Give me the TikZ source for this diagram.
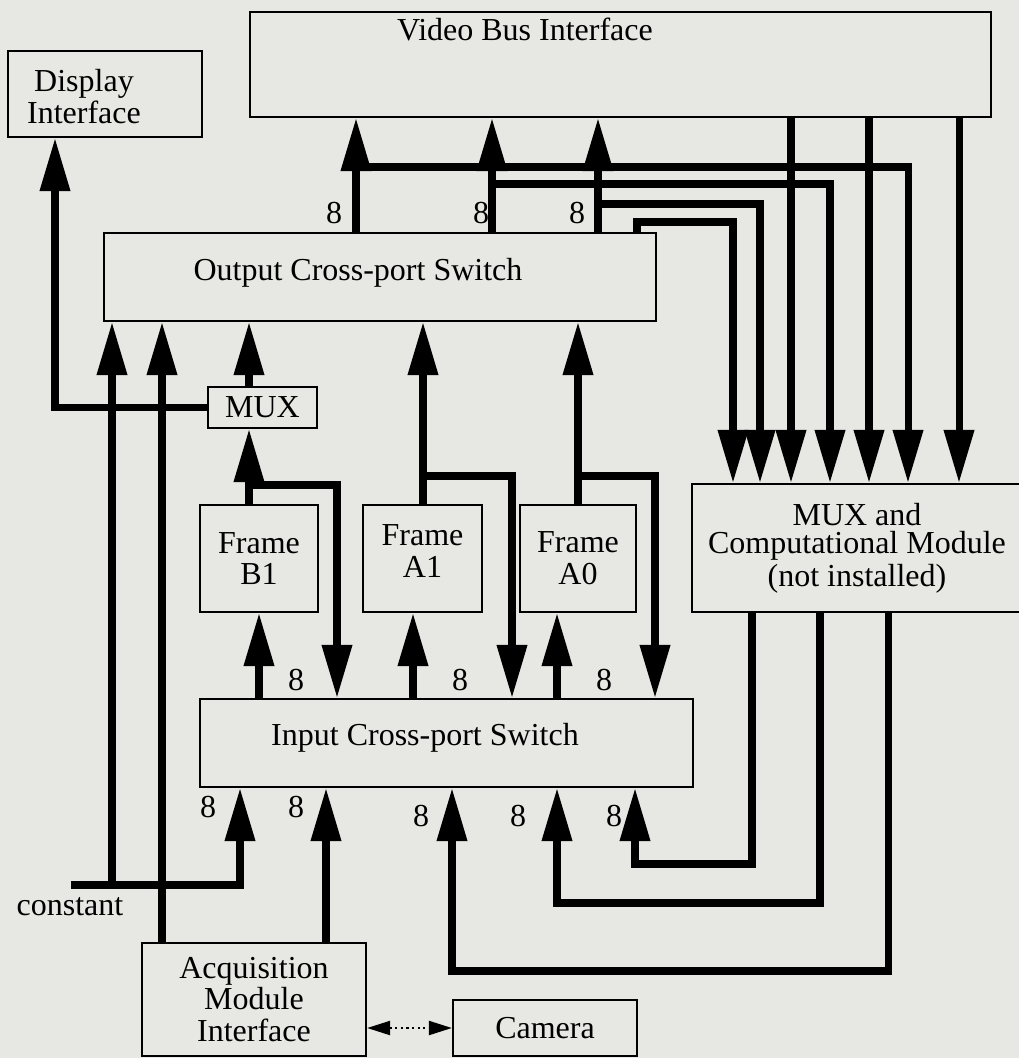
\documentclass[tikz,border=0pt]{standalone}
\usepackage{fontspec}
\setmainfont{Liberation Serif}
\usetikzlibrary{arrows.meta}
\definecolor{paper}{RGB}{231,232,227}
\newcommand{\figfont}{\fontsize{9.1}{9}\selectfont}

\begin{document}
\begin{tikzpicture}[
    x=0.01cm, y=-0.01cm,
    font=\figfont,
    blk/.style={draw, line width=0.6pt, fill=paper, inner sep=0pt, align=center},
    bus/.style={line width=2pt},
    arr/.style={bus, -{Triangle[length=5.3mm, width=2.9mm]}},
    biarr/.style={line width=0.6pt, densely dotted, {Triangle[length=2.3mm, width=1.4mm]}-{Triangle[length=2.3mm, width=1.4mm]}},
    wid/.style={inner sep=0pt}
]
    \useasboundingbox (0,0) rectangle (1019,1058);
    \fill[paper] (0,0) rectangle (1019,1058);
    \clip (0,0) rectangle (1019,1058);

    % Boxes
    \node[blk, minimum width=7.41cm, minimum height=1.05cm, label={[xshift=-9.55mm, yshift=3.45mm]center:Video Bus Interface}] (vbus) at (620.5,64.5) {};
    \node[blk, minimum width=1.94cm, minimum height=0.86cm, label={[xshift=-2.1mm, yshift=-0.25mm, align=center]center:Display\\Interface}] (disp) at (105,94) {};
    \node[blk, minimum width=5.52cm, minimum height=0.88cm, label={[xshift=-2.2mm, yshift=0.4mm]center:Output Cross-port Switch}] (outsw) at (380,277) {};
    \node[blk, minimum width=1.09cm, minimum height=0.41cm] (mux) at (262.5,407.5) {MUX};
    \node[blk, minimum width=1.18cm, minimum height=1.07cm] (fb1) at (259,558.5) {Frame\\B1};
    \node[blk, minimum width=1.19cm, minimum height=1.07cm, label={[yshift=0.75mm, align=center]center:Frame\\A1}] (fa1) at (422.5,558.5) {};
    \node[blk, minimum width=1.16cm, minimum height=1.07cm] (fa0) at (578,558.5) {Frame\\A0};
    \node[blk, minimum width=3.30cm, minimum height=1.28cm, font={\fontsize{9.1}{8.1}\selectfont}] (mcm) at (857,548) {MUX and\\Computational Module\\(not installed)};
    \node[blk, minimum width=4.93cm, minimum height=0.88cm, label={[xshift=-2.15mm, yshift=0.5mm]center:Input Cross-port Switch}] (insw) at (446.5,743) {};
    \node[blk, minimum width=2.24cm, minimum height=1.13cm] (acq) at (254,999.5) {Acquisition\\Module\\Interface};
    \node[blk, minimum width=1.84cm, minimum height=0.56cm] (cam) at (545,1028) {Camera};
    \node (cstlbl) at (70,907) {constant};

    % Columns and rows of the bus lines
    \foreach \x in {55,112,162,240,249,259,326,337,356,413,423,452,492,512,557,578,598,635,637,655,733,752,760,791,820,830,869,888,908,959}
        \coordinate (x\x) at (\x,0);
    \foreach \y in {167,184,204,222,476,485,864,885,903,971}
        \coordinate (y\y) at (0,\y);
    \coordinate (cst) at (71,885);

    % Output switch up to the video bus
    \foreach \x in {356,492,598}
        \draw[arr] (outsw.north -| x\x) -- (vbus.south -| x\x);
    % Taps down to the computational module
    \foreach \a/\b/\h in {356/908/167, 492/830/184, 598/760/204, 637/733/222}
        \draw[arr] (outsw.north -| x\a) |- (x\b |- y\h) -- (mcm.north -| x\b);
    \foreach \x in {791,869,959}
        \draw[arr] (vbus.south -| x\x) -- (mcm.north -| x\x);
    % Computational module back to the input switch
    \foreach \a/\b/\h in {752/635/864, 820/557/903, 888/452/971}
        \draw[arr] (mcm.south -| x\a) |- (x\b |- y\h) -- (insw.south -| x\b);

    % Into the output switch
    \draw[arr] (cst -| x112) -- (outsw.south -| x112);
    \draw[arr] (acq.north -| x162) -- (outsw.south -| x162);
    \draw[arr] (mux.north -| x249) -- (outsw.south -| x249);
    \draw[arr] (fa1.north -| x423) -- (outsw.south -| x423);
    \draw[arr] (fa0.north -| x578) -- (outsw.south -| x578);
    \draw[arr] (mux.west) -| (disp.south -| x55);

    % Frames
    \draw[arr] (fb1.north -| x249) -- (mux.south -| x249);
    \draw[arr] (fb1.north -| x249) |- (x337 |- y485) -- (insw.north -| x337);
    \draw[arr] (fa1.north -| x423) |- (x512 |- y476) -- (insw.north -| x512);
    \draw[arr] (fa0.north -| x578) |- (x655 |- y476) -- (insw.north -| x655);
    \foreach \x/\f in {259/fb1, 413/fa1, 557/fa0}
        \draw[arr] (insw.north -| x\x) -- (\f.south -| x\x);

    % Inputs from below
    \draw[arr] (cst) -| (insw.south -| x240);
    \draw[arr] (acq.north -| x326) -- (insw.south -| x326);
    \draw[biarr] (acq.east |- cam.west) -- (cam.west);

    % Bus widths
    \foreach \x/\y [count=\i] in {334/213, 481/213, 577/213, 296/680, 460/680, 604/680, 208/807, 296/807, 421/816, 518/816, 614/816}
        \node[wid] (w\i) at (\x,\y) {8};
\end{tikzpicture}
\end{document}
